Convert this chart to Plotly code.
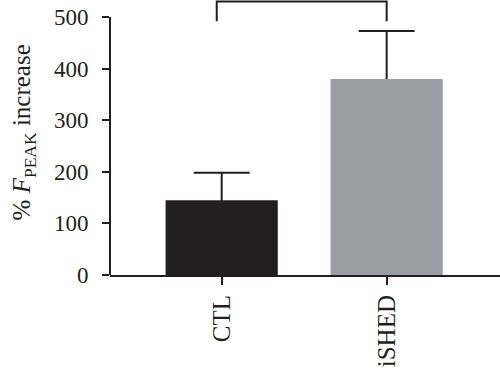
import plotly.graph_objects as go

categories = ["CTL", "iSHED"]
values = [145, 380]
errors = [53, 93]
bar_colors = ["#231f20", "#9a9ca3"]
y_ticks = [0, 100, 200, 300, 400, 500]
bracket_y = [492, 530]

ink = "#231f20"
font_fam = "Liberation Serif, DejaVu Serif, serif"
fs = 23

fig = go.Figure()
# error bars (lower half hidden by the bars drawn on top)
fig.add_trace(go.Bar(
    x=[0, 1], y=values,
    marker=dict(color="rgba(0,0,0,0)", line=dict(width=0)),
    width=0.68,
    error_y=dict(type="data", array=errors, symmetric=True,
                 color=ink, thickness=2, width=28),
    showlegend=False, hoverinfo="skip",
))
fig.add_trace(go.Bar(
    x=[0, 1], y=values,
    marker=dict(color=bar_colors, line=dict(width=0)),
    width=0.68,
    showlegend=False,
))
# significance bracket
fig.add_trace(go.Scatter(
    x=[-0.03, -0.03, 1, 1],
    y=[bracket_y[0], bracket_y[1], bracket_y[1], bracket_y[0]],
    mode="lines", line=dict(color=ink, width=2), showlegend=False,
    hoverinfo="skip",
))
# y axis line only from 0 to 500
fig.add_shape(type="line", xref="paper", yref="y", x0=0, x1=0, y0=0, y1=500,
              line=dict(color=ink, width=2))

fig.update_layout(
    width=500, height=373,
    margin=dict(l=110, r=0, t=0, b=98),
    plot_bgcolor="white", paper_bgcolor="white",
    font=dict(family=font_fam, color=ink, size=fs),
    barmode="overlay",
    xaxis=dict(
        range=[-0.677, 1.687], tickmode="array", tickvals=[0, 1], ticktext=categories,
        tickangle=-90, showline=True, linecolor=ink, linewidth=2,
        ticks="outside", ticklen=8, tickwidth=2, tickcolor=ink,
        showgrid=False, zeroline=False, tickfont=dict(size=25), automargin=False,
    ),
    yaxis=dict(
        range=[0, 533], tickmode="array", tickvals=y_ticks,
        showline=False, ticks="outside", ticklen=7, tickwidth=2, tickcolor=ink,
        showgrid=False, zeroline=False, tickfont=dict(size=fs), automargin=False,
        ticklabelstandoff=9,
    ),
    annotations=[dict(
        text="% <i>F</i><sub>PEAK</sub> increase", textangle=-90,
        xref="paper", yref="paper", x=-0.222, y=0.52, xanchor="center", yanchor="middle",
        showarrow=False, font=dict(size=25, family=font_fam, color=ink),
    )],
)

fig.write_html("out.html", config={"displayModeBar": False},
               post_script="document.body.style.margin='0';")
